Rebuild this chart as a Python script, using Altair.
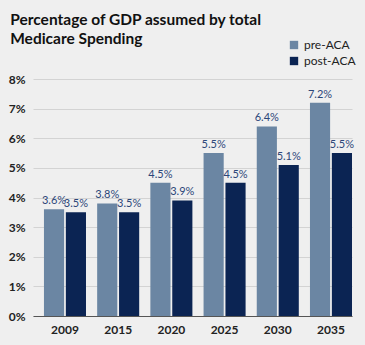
import altair as alt
import pandas as pd

years = ["2009", "2015", "2020", "2025", "2030", "2035"]
pre_aca = [3.6, 3.8, 4.5, 5.5, 6.4, 7.2]
post_aca = [3.5, 3.5, 3.9, 4.5, 5.1, 5.5]
series = ["pre-ACA", "post-ACA"]
y_ticks = [0, 1, 2, 3, 4, 5, 6, 7, 8]

rows = []
for i, y in enumerate(years):
    rows.append({"year": y, "series": series[0], "value": pre_aca[i]})
    rows.append({"year": y, "series": series[1], "value": post_aca[i]})
df = pd.DataFrame(rows)
df["label"] = df["value"].map(lambda v: f"{v:.1f}%")

FONT = "Lato"

base = alt.Chart(df).encode(
    x=alt.X("year:N", sort=years, title=None,
            scale=alt.Scale(paddingInner=0.21, paddingOuter=0.103, align=1),
            axis=alt.Axis(labelAngle=0, ticks=False, labelFontSize=12, labelFont=FONT,
                          labelFontWeight="bold", labelColor="#222222", labelPadding=8,
                          domainColor="#555555", domainWidth=1.2)),
    xOffset=alt.XOffset("series:N", sort=series, scale=alt.Scale(paddingInner=0.08)),
    y=alt.Y("value:Q", title=None,
            scale=alt.Scale(domain=[0, 8]),
            axis=alt.Axis(values=y_ticks, labelExpr="datum.value + '%'", ticks=False,
                          domain=False, gridColor="#d3d3d3", labelFontSize=12,
                          labelFont=FONT, labelFontWeight="bold", labelColor="#222222",
                          labelPadding=8, labelOverlap=False)),
)

bars = base.mark_bar().encode(
    color=alt.Color("series:N", sort=series,
                    scale=alt.Scale(domain=series, range=["#6b86a3", "#0b2453"]),
                    legend=alt.Legend(title=None, orient="none", legendX=255, legendY=-40,
                                      symbolType="square", symbolSize=70, labelFont=FONT,
                                      labelFontSize=12, labelColor="#222222",
                                      symbolStrokeWidth=0, rowPadding=4)),
)

labels = base.mark_text(dy=-8, fontSize=11, font=FONT, color="#2c4679").encode(
    text="label:N",
)

chart = (bars + labels).properties(
    width=319, height=237,
    background="#efefef",
    padding={"left": 33, "top": 79, "right": 13, "bottom": 29},
    autosize=alt.AutoSizeParams(type="none"),
    title=alt.TitleParams(["Percentage of GDP assumed by total", "Medicare Spending"],
                          anchor="start", dx=2, offset=30, dy=38, font=FONT, fontSize=15.5,
                          fontWeight="bold", color="#111111", lineHeight=19),
).configure_view(stroke=None)

chart.save("out.html", embed_options={"renderer": "svg", "actions": False})
